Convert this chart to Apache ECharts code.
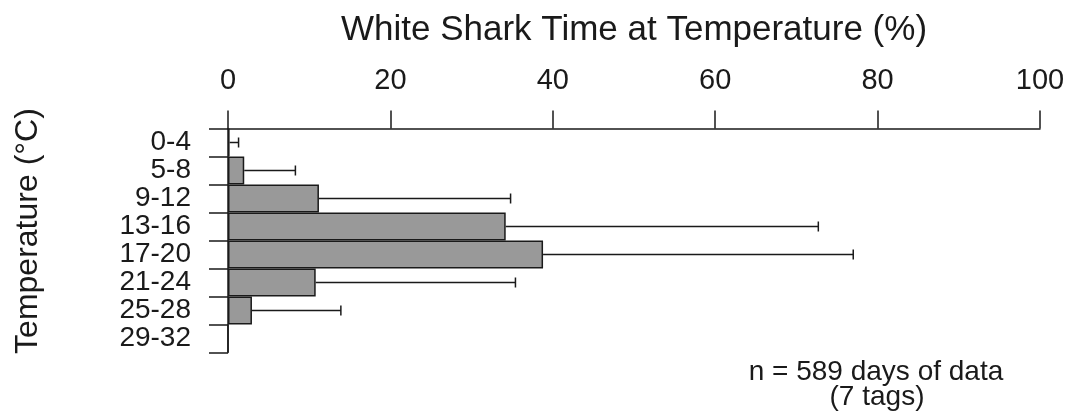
<!DOCTYPE html>
<html>
<head>
<meta charset="utf-8">
<script src="https://cdn.jsdelivr.net/npm/echarts@6/dist/echarts.min.js"></script>
<style>
  html, body { margin: 0; padding: 0; background: #fff; }
  #chart { width: 1068px; height: 418px; }
</style>
</head>
<body>
<div id="chart"></div>
<script>
// Temperature bins (°C), top to bottom
const categories = ['0-4', '5-8', '9-12', '13-16', '17-20', '21-24', '25-28', '29-32'];
// Mean percentage of time spent in each bin
const meanPct = [0.2, 2.0, 11.2, 34.2, 38.8, 10.8, 2.95, 0];
// Upper end of the error bar for each bin (%)
const errorUpper = [1.3, 8.3, 34.8, 72.7, 77.0, 35.4, 13.9, null];
// Percentage axis ticks
const xTicks = [0, 20, 40, 60, 80, 100];

const FONT = '"Liberation Sans", Arial, Helvetica, sans-serif';
const INK = '#1a1a1a';

const chart = echarts.init(document.getElementById('chart'), null, { renderer: 'canvas' });

const errorData = categories.map((c, i) => [i, meanPct[i], errorUpper[i]]);

chart.setOption({
  animation: false,
  backgroundColor: '#ffffff',
  grid: { left: 228, right: 28, top: 128.5, bottom: 65.5, containLabel: false },
  xAxis: {
    type: 'value',
    position: 'top',
    min: xTicks[0],
    max: xTicks[xTicks.length - 1],
    interval: xTicks[1] - xTicks[0],
    axisLine: { show: true, lineStyle: { color: INK, width: 1.5 } },
    axisTick: { show: true, inside: false, length: 18, lineStyle: { color: INK, width: 1.5 } },
    axisLabel: { color: INK, fontSize: 29, fontFamily: FONT, margin: 33 },
    splitLine: { show: false }
  },
  yAxis: {
    type: 'category',
    data: categories,
    inverse: true,
    boundaryGap: true,
    axisLine: { show: true, lineStyle: { color: INK, width: 1.5 } },
    axisTick: { show: true, inside: false, length: 19, interval: 0, alignWithLabel: false, lineStyle: { color: INK, width: 1.5 } },
    axisLabel: { color: INK, fontSize: 28, fontFamily: FONT, margin: 37, interval: 0, hideOverlap: false },
    splitLine: { show: false }
  },
  series: [
    {
      type: 'bar',
      data: meanPct,
      barCategoryGap: '0%',
      itemStyle: { color: '#999999', borderColor: INK, borderWidth: 1.5 },
      z: 2
    },
    {
      type: 'custom',
      data: errorData,
      z: 3,
      renderItem: function (params, api) {
        const idx = api.value(0);
        const from = api.value(1);
        const to = api.value(2);
        if (to == null || isNaN(to)) return null;
        const p0 = api.coord([from, idx]);
        const p1 = api.coord([to, idx]);
        const cap = 5;
        const style = { stroke: INK, lineWidth: 1.5 };
        return {
          type: 'group',
          children: [
            { type: 'line', shape: { x1: p0[0], y1: p0[1], x2: p1[0], y2: p1[1] }, style: style },
            { type: 'line', shape: { x1: p1[0], y1: p1[1] - cap, x2: p1[0], y2: p1[1] + cap }, style: style }
          ]
        };
      }
    }
  ],
  graphic: [
    {
      type: 'text',
      x: 634, y: 30,
      style: {
        text: 'White Shark Time at Temperature (%)',
        fill: INK, font: '35px ' + FONT,
        textAlign: 'center', textVerticalAlign: 'middle'
      }
    },
    {
      type: 'text',
      x: 28, y: 231,
      rotation: Math.PI / 2,
      style: {
        text: 'Temperature (°C)',
        fill: INK, font: '32px ' + FONT,
        textAlign: 'center', textVerticalAlign: 'middle'
      }
    },
    {
      type: 'text',
      x: 876, y: 372,
      style: {
        text: 'n = 589 days of data',
        fill: INK, font: '28px ' + FONT,
        textAlign: 'center', textVerticalAlign: 'middle'
      }
    },
    {
      type: 'text',
      x: 877, y: 397,
      style: {
        text: '(7 tags)',
        fill: INK, font: '28px ' + FONT,
        textAlign: 'center', textVerticalAlign: 'middle'
      }
    }
  ]
});
</script>
</body>
</html>
